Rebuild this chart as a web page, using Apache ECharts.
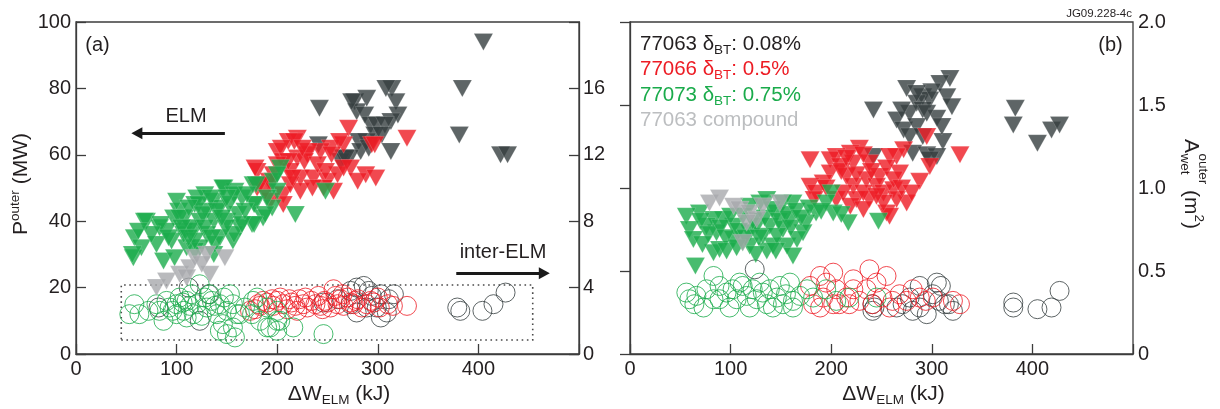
<!DOCTYPE html>
<html>
<head>
<meta charset="utf-8">
<script src="https://cdn.jsdelivr.net/npm/echarts@6/dist/echarts.min.js"></script>
<style>
  html, body { margin: 0; padding: 0; background: #fff; }
  #chart { width: 1220px; height: 409px; }
</style>
</head>
<body>
<div id="chart"></div>
<script>
// ---- data: [ΔW_ELM (kJ), value] ----
// panel (a): peak ELM power to the outer target, P_outer (MW), left axis
const elmP_77063 = [[405,94],[384,80],[381,66],[422,60],[429,60],[242,74],[314,80],[318,76],[320,72],[313,70],[313,61],[277,76],[289,77],[279,73],[287,72],[293,69],[299,69],[307,69],[297,66],[289,64],[281,64],[283,61],[291,62],[266,59],[272,59],[241,63],[263,58],[308,80],[274,76],[304,66],[268,59]];
const elmP_77066 = [[329,65],[271,68],[294,63],[266,63],[253,62],[243,61],[220,65],[211,64],[200,61],[230,60],[220,59],[206,58],[180,55],[193,51],[213,55],[223,53],[236,53],[250,52],[260,54],[273,56],[288,54],[298,53],[246,50],[256,49],[223,49],[206,48],[213,51],[193,46],[180,50],[206,45],[297,63],[217,64],[204,62],[178,56],[188,49],[235,50],[231,61],[227,58],[211,58],[196,54],[215,53],[192,52],[183,51],[262,64],[266,56],[254,60],[240,57],[225,62],[200,57],[248,55],[280,52]];
const elmP_77073 = [[203,56],[176,51],[196,52],[200,49],[178,45],[195,44],[186,41],[175,39],[218,42],[248,49],[147,50],[158,49],[165,47],[128,48],[137,46],[120,47],[118,45],[143,44],[130,43],[102,43],[97,41],[108,41],[123,40],[137,40],[150,40],[163,38],[70,40],[83,38],[90,37],[107,37],[117,37],[130,36],[143,35],[156,34],[58,35],[65,32],[57,29],[80,33],[87,28],[98,29],[110,32],[123,32],[137,30],[200,54],[179,51],[56,30],[68,40],[84,39],[107,36],[122,45],[134,47],[146,50],[157,48],[161,42],[157,36],[138,33],[118,31],[177,45],[188,42],[177,39],[165,39],[149,38],[103,41],[114,38],[95,34],[118,34],[100,46],[112,44],[126,42],[140,43],[152,45],[168,43],[105,38],[128,38],[145,41],[92,35],[75,36],[62,37],[112,35],[135,35],[150,47],[170,48],[190,47]];
const elmP_compound = [[80,20],[90,22],[103,24],[113,26],[118,29],[130,30],[133,24],[148,29],[125,27],[110,23]];

// panel (a): inter-ELM power (MW), right axis
const interP_77063 = [[379,2.8],[382,2.6],[404,2.6],[415,3.0],[427,3.7],[273,3.8],[279,4.0],[286,4.1],[291,3.8],[294,3.5],[303,3.6],[311,3.3],[316,3.6],[299,2.8],[289,2.8],[279,2.5],[303,2.2],[309,2.5],[273,3.0],[260,3.3],[246,3.1],[112,4.0],[132,3.6],[82,2.8],[123,2.0]];
const interP_77066 = [[173,2.6],[183,2.9],[190,3.1],[196,2.9],[200,3.2],[206,3.0],[210,2.7],[214,3.1],[218,2.9],[222,3.3],[226,3.0],[230,2.8],[234,3.2],[238,3.0],[243,2.9],[247,3.2],[250,3.1],[253,2.8],[256,3.9],[260,3.0],[263,3.3],[266,2.9],[270,3.4],[273,3.1],[276,3.0],[280,3.3],[284,2.8],[289,3.0],[293,3.2],[296,3.1],[302,2.8],[329,2.9],[186,3.2],[203,3.4],[212,3.3],[220,2.6],[228,3.4],[241,3.5],[245,2.7],[258,3.5],[265,3.6],[278,3.2],[300,3.4],[310,3.0],[315,2.9],[181,3.0],[178,2.7],[195,3.3]];
const interP_77073 = [[53,2.4],[58,3.0],[63,2.4],[72,2.6],[80,3.0],[83,2.6],[90,3.2],[93,2.8],[100,3.0],[103,3.4],[110,3.2],[115,3.6],[120,3.0],[123,4.2],[130,2.8],[135,3.2],[140,2.4],[143,3.0],[147,3.4],[150,2.6],[153,3.6],[156,3.0],[160,2.4],[146,1.8],[156,1.6],[143,1.4],[150,1.2],[158,1.0],[163,2.4],[168,2.8],[175,2.4],[180,3.4],[183,2.0],[190,1.6],[193,1.6],[200,2.0],[203,2.0],[216,1.6],[246,1.2],[100,2.4],[110,2.2],[117,2.4],[125,2.3],[107,2.6],[96,2.6],[87,2.0],[176,3.2],[190,2.8],[200,2.6],[200,1.4],[133,3.6],[128,3.4],[138,2.9],[113,2.9],[106,3.1]];

// panel (b): outer-target wetted area, A_wet (m^2), ELM
const elmA_77063 = [[318,1.66],[308,1.63],[275,1.60],[242,1.47],[291,1.55],[298,1.53],[285,1.51],[315,1.55],[320,1.49],[305,1.42],[291,1.47],[278,1.45],[265,1.41],[272,1.35],[285,1.37],[278,1.31],[291,1.31],[311,1.28],[281,1.21],[295,1.20],[305,1.19],[242,1.19],[298,1.17],[383,1.48],[381,1.38],[405,1.27],[419,1.35],[427,1.38],[300,1.58],[285,1.57],[295,1.45],[310,1.37],[270,1.47]];
const elmA_77066 = [[328,1.20],[295,1.31],[298,1.13],[288,1.04],[272,1.23],[265,1.19],[268,1.09],[258,1.19],[228,1.24],[219,1.21],[205,1.19],[199,1.17],[179,1.17],[209,1.13],[222,1.15],[238,1.15],[199,1.09],[215,1.07],[192,1.03],[179,1.01],[222,1.01],[235,1.05],[248,1.07],[245,1.01],[252,0.97],[262,0.99],[275,0.91],[265,0.93],[255,0.85],[258,0.83],[238,0.93],[225,0.93],[219,0.89],[205,0.93],[185,0.97],[212,0.97],[232,0.97],[252,0.91],[232,0.87],[210,1.10],[225,1.08],[240,1.10],[255,1.12],[215,1.18],[232,1.20],[262,1.05],[245,0.95],[195,1.00],[183,0.93],[270,1.00],[280,0.97]];
const elmA_77073 = [[200,0.97],[195,0.91],[202,0.85],[217,0.79],[247,0.80],[185,0.85],[175,0.79],[172,0.73],[162,0.91],[152,0.91],[146,0.85],[159,0.81],[156,0.65],[142,0.65],[136,0.62],[132,0.71],[119,0.73],[112,0.67],[103,0.77],[93,0.81],[86,0.73],[83,0.81],[76,0.77],[69,0.85],[56,0.83],[59,0.75],[63,0.69],[83,0.61],[103,0.69],[119,0.65],[126,0.77],[139,0.77],[152,0.75],[166,0.69],[162,0.59],[129,0.91],[136,0.93],[119,0.89],[112,0.83],[65,0.53],[146,0.71],[89,0.63],[70,0.80],[78,0.72],[90,0.76],[95,0.70],[100,0.83],[108,0.74],[115,0.70],[122,0.80],[128,0.70],[134,0.82],[141,0.87],[148,0.80],[155,0.84],[160,0.76],[165,0.86],[170,0.82],[178,0.88],[190,0.86],[210,0.84],[96,0.62],[106,0.64],[125,0.60],[145,0.62],[72,0.66]];
const elmA_compound = [[79,0.91],[89,0.94],[103,0.89],[109,0.87],[119,0.85],[132,0.89],[149,0.91],[126,0.81],[116,0.79],[112,0.67]];

// panel (b): inter-ELM wetted area (m^2)
const interA_77063 = [[124,0.51],[241,0.30],[241,0.26],[271,0.30],[278,0.34],[288,0.41],[305,0.43],[288,0.28],[295,0.24],[307,0.32],[317,0.30],[321,0.26],[281,0.26],[265,0.28],[301,0.36],[381,0.31],[381,0.28],[405,0.27],[419,0.28],[427,0.38],[313,0.30],[309,0.41],[243,0.28]];
const interA_77066 = [[182,0.30],[179,0.41],[189,0.47],[195,0.43],[202,0.49],[205,0.39],[208,0.30],[215,0.34],[222,0.45],[222,0.39],[228,0.32],[238,0.51],[235,0.39],[245,0.43],[251,0.34],[255,0.47],[261,0.32],[268,0.36],[275,0.32],[281,0.39],[288,0.34],[294,0.32],[301,0.34],[328,0.30],[192,0.34],[218,0.30],[241,0.30],[189,0.28],[202,0.30],[258,0.28],[321,0.32]];
const interA_77073 = [[56,0.37],[59,0.33],[66,0.35],[76,0.39],[83,0.33],[89,0.41],[89,0.33],[96,0.37],[102,0.39],[106,0.33],[112,0.41],[116,0.35],[122,0.39],[126,0.33],[129,0.43],[132,0.37],[136,0.30],[139,0.39],[146,0.34],[149,0.41],[152,0.30],[155,0.36],[159,0.43],[162,0.32],[169,0.35],[176,0.39],[182,0.34],[195,0.39],[205,0.32],[218,0.34],[245,0.34],[73,0.28],[99,0.28],[119,0.28],[142,0.28],[162,0.28],[64,0.30],[109,0.43],[83,0.47]];

// legend lines of panel (b)
const legendLines = [
  { shot: '77063', delta: '0.08%' },
  { shot: '77066', delta: '0.5%' },
  { shot: '77073', delta: '0.75%' },
  { shot: '77063', delta: null, note: 'compound' }
];

// ---- styling ----
const FONT = '"Liberation Sans", Arial, Helvetica, sans-serif';
const INK = '#231f20';
const AXIS = '#3c3c3c';
const C_BLACK = '#363e40';
const C_RED = '#ed1c24';
const C_GREEN = '#1aab4b';
const C_GREY = '#a7a9ac';
const legendColors = [INK, C_RED, C_GREEN, '#bcbec0'];

const chart = echarts.init(document.getElementById('chart'), null, { renderer: 'canvas' });

function tri(name, data, color, xi, yi, extra) {
  return Object.assign({
    type: 'scatter', name, data, xAxisIndex: xi, yAxisIndex: yi,
    symbol: 'triangle', symbolRotate: 180, symbolSize: [19, 17],
    itemStyle: { color, borderColor: 'rgba(255,255,255,0.5)', borderWidth: 0.4 },
    silent: true, animation: false
  }, extra || {});
}
function ring(name, data, color, xi, yi) {
  return {
    type: 'scatter', name, data, xAxisIndex: xi, yAxisIndex: yi,
    symbol: 'circle', symbolSize: 19,
    itemStyle: { color: 'rgba(255,255,255,0)', borderColor: color, borderWidth: 1 },
    silent: true, animation: false
  };
}

const axisLine = { show: true, lineStyle: { color: AXIS, width: 1.3 } };
const axisTick = { show: true, inside: true, length: 10, lineStyle: { color: AXIS, width: 1.3 } };
const label = (extra) => Object.assign({ color: INK, fontSize: 20, fontFamily: FONT }, extra);

function xAx(gi) {
  return {
    type: 'value', gridIndex: gi, min: 0, max: 500, interval: 100,
    axisLine, axisTick, splitLine: { show: false },
    axisLabel: label({ margin: 5, formatter: v => (v === 500 ? '' : String(v)) })
  };
}

const option = {
  backgroundColor: '#fff',
  textStyle: { fontFamily: FONT },
  grid: [
    { left: 76, top: 22, width: 503, height: 332, show: true, borderColor: AXIS, borderWidth: 1.3, backgroundColor: 'rgba(0,0,0,0)' },
    { left: 630, top: 22, width: 503, height: 332, show: true, borderColor: AXIS, borderWidth: 1.3, backgroundColor: 'rgba(0,0,0,0)' }
  ],
  xAxis: [xAx(0), xAx(1)],
  yAxis: [
    { type: 'value', gridIndex: 0, position: 'left', min: 0, max: 100, interval: 20,
      axisLine, axisTick, splitLine: { show: false }, axisLabel: label({ margin: 5 }) },
    { type: 'value', gridIndex: 0, position: 'right', min: 0, max: 20, interval: 4,
      axisLine, axisTick, splitLine: { show: false },
      axisLabel: label({ margin: 4, formatter: v => (v === 20 ? '' : String(v)) }) },
    { type: 'value', gridIndex: 1, position: 'right', min: 0, max: 2, interval: 0.5,
      axisLine, axisTick, splitLine: { show: false },
      axisLabel: label({ margin: 5, formatter: v => (v === 0 ? '0' : v.toFixed(1)) }) }
  ],
  series: [
    // panel (a): inter-ELM rings
    ring('77063 inter', interP_77063, C_BLACK, 0, 1),
    ring('77066 inter', interP_77066, C_RED, 0, 1),
    ring('77073 inter', interP_77073, C_GREEN, 0, 1),
    // panel (a): ELM triangles, with the inter-ELM window and the axis arrows
    tri('77063', elmP_77063, C_BLACK, 0, 0, {
      markArea: {
        silent: true,
        itemStyle: { color: 'rgba(0,0,0,0)', borderColor: '#4a4a4a', borderWidth: 1.6, borderType: [1.6, 3.6] },
        data: [[{ coord: [45, 4.2] }, { coord: [454, 20.8] }]]
      },
      markLine: {
        silent: true, animation: false,
        symbol: ['none', 'triangle'], symbolSize: [12, 11],
        label: { show: false },
        lineStyle: { color: '#1a1a1a', width: 2.8, type: 'solid' },
        data: [
          [{ coord: [148, 66.5] }, { coord: [60.5, 66.5] }],
          [{ coord: [378, 24.3] }, { coord: [465.5, 24.3] }]
        ]
      }
    }),
    tri('77066', elmP_77066, C_RED, 0, 0),
    tri('77073', elmP_77073, C_GREEN, 0, 0),
    tri('77063 compound', elmP_compound, C_GREY, 0, 0),
    // panel (b)
    ring('77063 inter', interA_77063, C_BLACK, 1, 2),
    ring('77066 inter', interA_77066, C_RED, 1, 2),
    ring('77073 inter', interA_77073, C_GREEN, 1, 2),
    tri('77063', elmA_77063, C_BLACK, 1, 2),
    tri('77066', elmA_77066, C_RED, 1, 2),
    tri('77073', elmA_77073, C_GREEN, 1, 2),
    tri('77063 compound', elmA_compound, C_GREY, 1, 2)
  ],
  graphic: []
};

const g = option.graphic;
const txt = (x, y, text, extra) => Object.assign({
  type: 'text', x, y, silent: true,
  style: Object.assign({ text, fill: INK, fontSize: 20, fontFamily: FONT, align: 'center', verticalAlign: 'middle' }, extra || {})
});

// panel tags and annotations
g.push(txt(97.5, 45, '(a)'));
g.push(txt(1110.5, 45, '(b)'));
g.push(txt(186, 116, 'ELM'));
g.push(txt(503, 252, 'inter-ELM'));
g.push(txt(1132, 14, 'JG09.228-4c', { fontSize: 11.5, align: 'right' }));

// x axis titles: ΔW_ELM (kJ)
const xRich = {
  m: { fontSize: 21, fontFamily: FONT, fill: INK, lineHeight: 26 },
  sub: { fontSize: 13.5, fontFamily: FONT, fill: INK, verticalAlign: 'bottom', lineHeight: 13 }
};
[339, 893.5].forEach(cx => {
  g.push({ type: 'text', x: cx, y: 394, silent: true,
    style: { text: '{m|ΔW}{sub|ELM}{m| (kJ)}', rich: xRich, align: 'center', verticalAlign: 'middle', fill: INK } });
});

// left y title: P^outer (MW), reading upward
g.push({ type: 'text', x: 21.5, y: 184, rotation: Math.PI / 2, silent: true,
  style: {
    text: '{m|P}{sup|outer}{m| (MW)}', align: 'center', verticalAlign: 'middle', fill: INK,
    rich: {
      m: { fontSize: 21, fontFamily: FONT, fill: INK, lineHeight: 26 },
      sup: { fontSize: 13.5, fontFamily: FONT, fill: INK, verticalAlign: 'top', lineHeight: 14 }
    }
  } });

// right y title: A_wet^outer (m^2), reading downward
const piece = (x, y, text, size) => ({ type: 'text', x, y, silent: true,
  style: { text, fill: INK, fontSize: size, fontFamily: FONT, align: 'left', verticalAlign: 'middle' } });
g.push({ type: 'group', x: 1191, y: 184, rotation: -Math.PI / 2, silent: true,
  children: [
    piece(-45, 0, 'A', 21),
    piece(-30.5, -12, 'outer', 13.5),
    piece(-30.5, 6, 'wet', 13.5),
    piece(6, 0, '(m', 21),
    piece(30.5, -8, '2', 13.5),
    piece(38, 0, ')', 21)
  ] });

// legend of panel (b)
legendLines.forEach((ln, i) => {
  const col = legendColors[i];
  const text = ln.delta
    ? `{m|${ln.shot} δ}{sub|BT}{m|: ${ln.delta}}`
    : `{m|${ln.shot} ${ln.note}}`;
  g.push({ type: 'text', x: 640, y: 44 + i * 25.5, silent: true,
    style: {
      text, align: 'left', verticalAlign: 'middle', fill: col,
      rich: {
        m: { fontSize: 20.5, fontFamily: FONT, fill: col, lineHeight: 26 },
        sub: { fontSize: 13.5, fontFamily: FONT, fill: col, verticalAlign: 'bottom', lineHeight: 13 }
      }
    } });
});

chart.setOption(option);
</script>
</body>
</html>
